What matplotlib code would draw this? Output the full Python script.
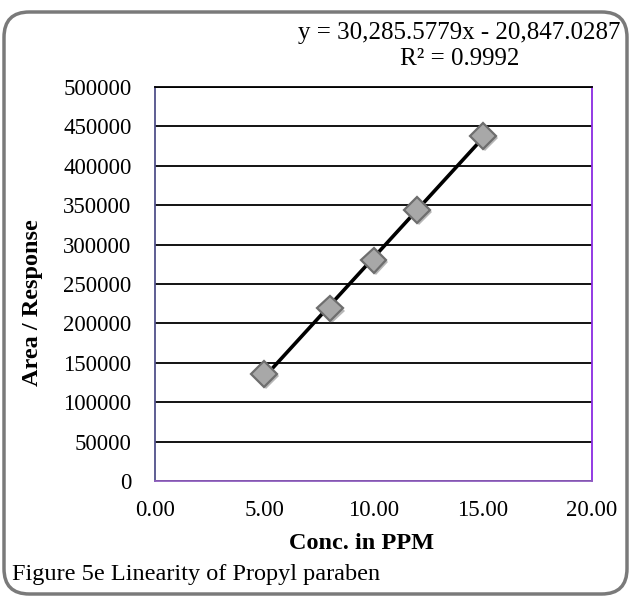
import numpy as np
import matplotlib.pyplot as plt
import matplotlib.patheffects as pe
from matplotlib.patches import FancyBboxPatch

# data
conc = [5, 8, 10, 12, 15]
area = [136000, 219000, 280000, 344000, 438000]
x_ticks = [0, 5, 10, 15, 20]
y_ticks = [0, 50000, 100000, 150000, 200000, 250000, 300000, 350000, 400000, 450000, 500000]
eq_text = "y = 30,285.5779x - 20,847.0287"
r2_text = "R\u00b2 = 0.9992"

plt.rcParams['font.family'] = ['Liberation Serif', 'DejaVu Serif']

fig = plt.figure(figsize=(6.32, 5.98), dpi=100)
W, H = 632, 598
ax = fig.add_axes([155/W, 1-481/H, (592-155)/W, (481-87)/H])

# trendline from least squares fit
slope, icpt = np.polyfit(conc, area, 1)
xs = np.array([min(conc), max(conc)])
ax.plot(xs, slope*xs + icpt, color='black', lw=2.6, zorder=3)
ax.plot(conc, area, linestyle='none', marker='D', markersize=13,
        markerfacecolor='#a8a8a8', markeredgecolor='#6e6e6e', markeredgewidth=1.6, zorder=4,
        path_effects=[pe.SimplePatchShadow(offset=(1.5, -1.5), alpha=0.35), pe.Normal()])

ax.set_xlim(0, 20)
ax.set_ylim(0, 500000)
ax.set_xticks(x_ticks)
ax.set_xticklabels([f"{v:.2f}" for v in x_ticks])
ax.set_yticks(y_ticks)
ax.set_yticklabels([str(v) for v in y_ticks])
ax.tick_params(length=0, labelsize=16.5)
ax.tick_params(axis='y', pad=17)
ax.tick_params(axis='x', pad=14)
ax.grid(axis='y', color='black', lw=1.3)
ax.set_axisbelow(True)

ax.spines['top'].set_color('black')
ax.spines['left'].set_color('#50508a')
ax.spines['bottom'].set_color('#9060c0')
ax.spines['right'].set_color('#8a2be2')
for s in ax.spines.values():
    s.set_linewidth(1.3)

ax.set_xlabel('Conc. in PPM', fontsize=17.5, fontweight='bold')
ax.set_ylabel('Area / Response', fontsize=17.5, fontweight='bold')
ax.xaxis.set_label_coords((362-155)/437, -(533-481)/394)
ax.yaxis.label.set_va('center')
ax.yaxis.set_label_coords(-(155-32)/437, (481-303)/394)

fig.text(621/W, 1-33/H, eq_text, fontsize=18, ha='right', va='center')
fig.text(460/W, 1-59/H, r2_text, fontsize=18, ha='center', va='center')
fig.text(12/W, 1-580/H, 'Figure 5e Linearity of Propyl paraben', fontsize=17.5,
         ha='left', va='baseline')

# rounded frame around the figure
frame = FancyBboxPatch((4/W, 4/H), (627-4)/W, (586-4)/H,
                       boxstyle='round,pad=0,rounding_size=0.04',
                       transform=fig.transFigure, fill=False,
                       edgecolor='#7a7a7a', linewidth=2.5, mutation_aspect=W/H)
fig.patches.append(frame)

plt.savefig('out.png', dpi=100)
